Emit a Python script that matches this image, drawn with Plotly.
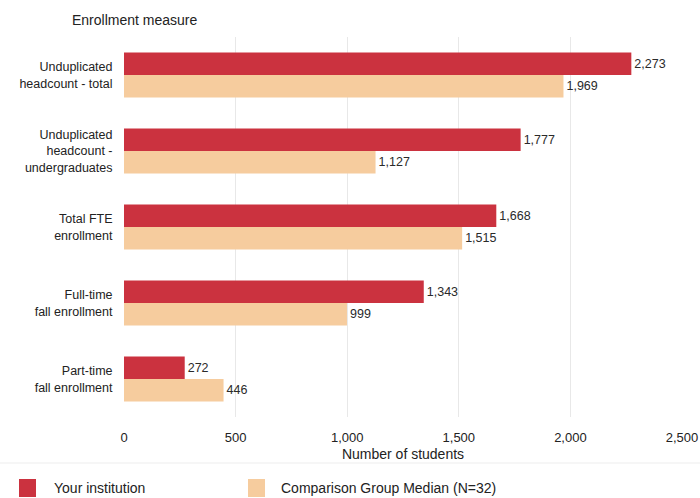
import plotly.graph_objects as go

categories = ["Unduplicated<br>headcount - total",
              "Unduplicated<br>headcount -<br>undergraduates",
              "Total FTE<br>enrollment",
              "Full-time<br>fall enrollment",
              "Part-time<br>fall enrollment"]
your_institution = [2273, 1777, 1668, 1343, 272]
comparison_median = [1969, 1127, 1515, 999, 446]
x_ticks = [0, 500, 1000, 1500, 2000, 2500]
x_tick_labels = ["0", "500", "1,000", "1,500", "2,000", "2,500"]
series_names = ["Your institution", "Comparison Group Median (N=32)"]

RED = "#CB323F"
TAN = "#F6CC9E"
FONT = "Liberation Sans, Arial, sans-serif"

L, R, T, B = 124, 18, 37, 81
W, H = 700, 498
PW, PH = W - L - R, H - T - B


def px_x(px):
    return (px - L) / PW


def px_y(py):
    return (H - B - py) / PH


fig = go.Figure()
for name, vals, col in [(series_names[0], your_institution, RED),
                        (series_names[1], comparison_median, TAN)]:
    fig.add_trace(go.Bar(
        y=categories, x=vals, orientation="h", name=name,
        marker=dict(color=col, line=dict(width=0)),
        text=vals, texttemplate="%{x:,}", textposition="outside",
        textfont=dict(size=12.5, color="#2a2a2a", family=FONT),
        cliponaxis=False, showlegend=False))

fig.update_layout(
    width=W, height=H,
    margin=dict(l=L, r=R, t=T, b=B),
    paper_bgcolor="white", plot_bgcolor="white",
    font=dict(family=FONT, size=13, color="#222222"),
    barmode="group", bargap=0.41, bargroupgap=0.0,
    xaxis=dict(range=[0, 2500], tickvals=x_ticks, ticktext=x_tick_labels,
               showgrid=True, gridcolor="#e8e8e8", gridwidth=1, zeroline=False,
               showline=False, ticks="outside", ticklen=8, tickcolor="white",
               tickfont=dict(size=13), automargin=False,
               title=dict(text="Number of students", font=dict(size=14), standoff=5)),
    yaxis=dict(autorange="reversed", showgrid=False, zeroline=False, showline=False,
               ticks="outside", ticklen=8, tickcolor="white",
               tickfont=dict(size=12.5), automargin=False),
    showlegend=False,
)

fig.add_annotation(text="Enrollment measure", xref="paper", yref="paper",
                   x=px_x(70), y=px_y(20), xanchor="left",
                   yanchor="middle", showarrow=False, font=dict(size=14))

# faint separator above legend
fig.add_shape(type="line", xref="paper", yref="paper",
              x0=px_x(0), x1=px_x(700), y0=px_y(463), y1=px_y(463),
              line=dict(color="#ededed", width=1))

# legend (manual, to match square size and spacing)
legend_items = [(series_names[0], RED, 19, 52), (series_names[1], TAN, 248, 279)]
for name, col, sq_x, tx_x in legend_items:
    fig.add_shape(type="rect", xref="paper", yref="paper",
                  x0=px_x(sq_x), x1=px_x(sq_x + 17), y0=px_y(479), y1=px_y(497),
                  fillcolor=col, line=dict(width=0))
    fig.add_annotation(text=name, xref="paper", yref="paper",
                       x=px_x(tx_x), y=px_y(488), xanchor="left", yanchor="middle",
                       showarrow=False, font=dict(size=14, color="#222222"))

fig.write_html("out.html",
               config={"displayModeBar": False},
               post_script="document.body.style.margin='0px';"
                           "document.body.style.overflow='hidden';")
